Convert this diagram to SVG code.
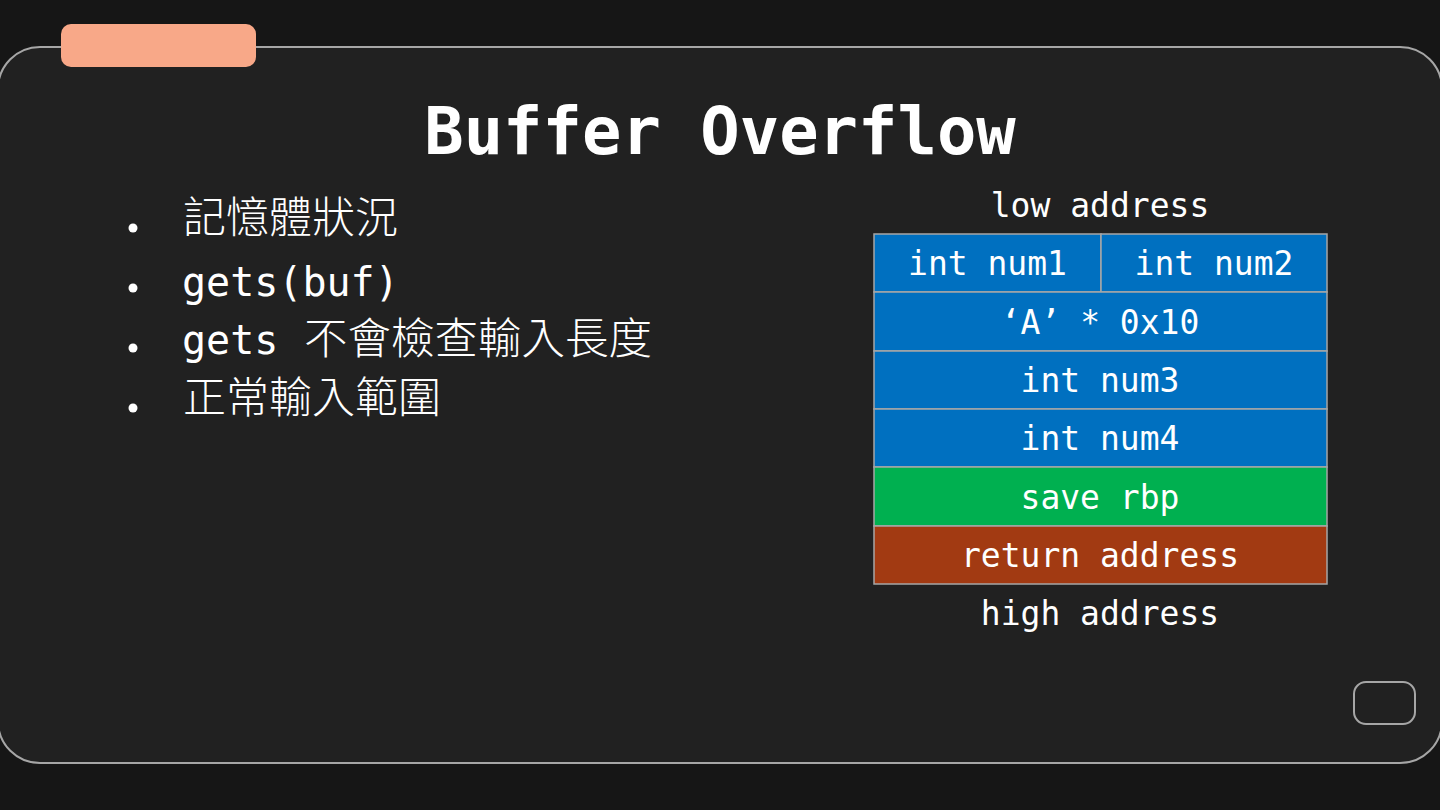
<svg xmlns="http://www.w3.org/2000/svg" width="1440" height="810" viewBox="0 0 1440 810">
<style>
.mono{font-family:"DejaVu Sans Mono","Liberation Mono",monospace;fill:#fff}
.cjk{font-family:"Noto Sans CJK TC","Noto Sans CJK SC",sans-serif;font-weight:300;fill:#fff}
.cell{stroke:#a6a6a6;stroke-width:1.5}
.ct{font-family:"DejaVu Sans Mono","Liberation Mono",monospace;font-size:33px;fill:#fff;text-anchor:middle}
</style>
<rect width="1440" height="810" fill="#161616"/>
<g id="card">
<rect x="-2" y="47" width="1444" height="716" rx="42" fill="#212121" stroke="#a6a6a6" stroke-width="2"/>
</g>
<g id="tab"><rect x="61" y="24" width="195" height="43" rx="10" fill="#f8a888"/></g>
<g id="corner-box"><rect x="1354" y="682" width="61" height="42" rx="12" fill="none" stroke="#a6a6a6" stroke-width="2"/></g>
<g id="title"><text class="mono" x="720" y="154" font-size="65.5" font-weight="bold" text-anchor="middle">Buffer Overflow</text></g>
<g id="bullets">
<circle cx="133" cy="228" r="4.5" fill="#fff"/>
<circle cx="133" cy="288" r="4.5" fill="#fff"/>
<circle cx="133" cy="348" r="4.5" fill="#fff"/>
<circle cx="133" cy="408" r="4.5" fill="#fff"/>
<text class="cjk" x="183" y="233" font-size="43">記憶體狀況</text>
<text class="mono" x="182" y="296" font-size="40">gets(buf)</text>
<text x="182" y="354"><tspan class="mono" font-size="40">gets </tspan><tspan class="cjk" x="304" font-size="43.5">不會檢查輸入長度</tspan></text>
<text class="cjk" x="183" y="413" font-size="43">正常輸入範圍</text>
</g>
<g id="stack">
<text class="ct" x="1100" y="217">low address</text>
<g id="row-num1"><rect class="cell" x="874" y="234" width="227" height="58" fill="#0070c0"/><text class="ct" x="987.5" y="275">int num1</text></g>
<g id="row-num2"><rect class="cell" x="1101" y="234" width="226" height="58" fill="#0070c0"/><text class="ct" x="1214" y="275">int num2</text></g>
<g id="row-buf"><rect class="cell" x="874" y="292" width="453" height="59" fill="#0070c0"/><text class="ct" x="1100" y="334">‘A’ * 0x10</text></g>
<g id="row-num3"><rect class="cell" x="874" y="351" width="453" height="58" fill="#0070c0"/><text class="ct" x="1100" y="392">int num3</text></g>
<g id="row-num4"><rect class="cell" x="874" y="409" width="453" height="58" fill="#0070c0"/><text class="ct" x="1100" y="450">int num4</text></g>
<g id="row-rbp"><rect class="cell" x="874" y="467" width="453" height="59" fill="#00b050"/><text class="ct" x="1100" y="509">save rbp</text></g>
<g id="row-ret"><rect class="cell" x="874" y="526" width="453" height="58" fill="#a23a12"/><text class="ct" x="1100" y="567">return address</text></g>
<text class="ct" x="1100" y="625">high address</text>
</g>
<g id="connectors"/>
</svg>
